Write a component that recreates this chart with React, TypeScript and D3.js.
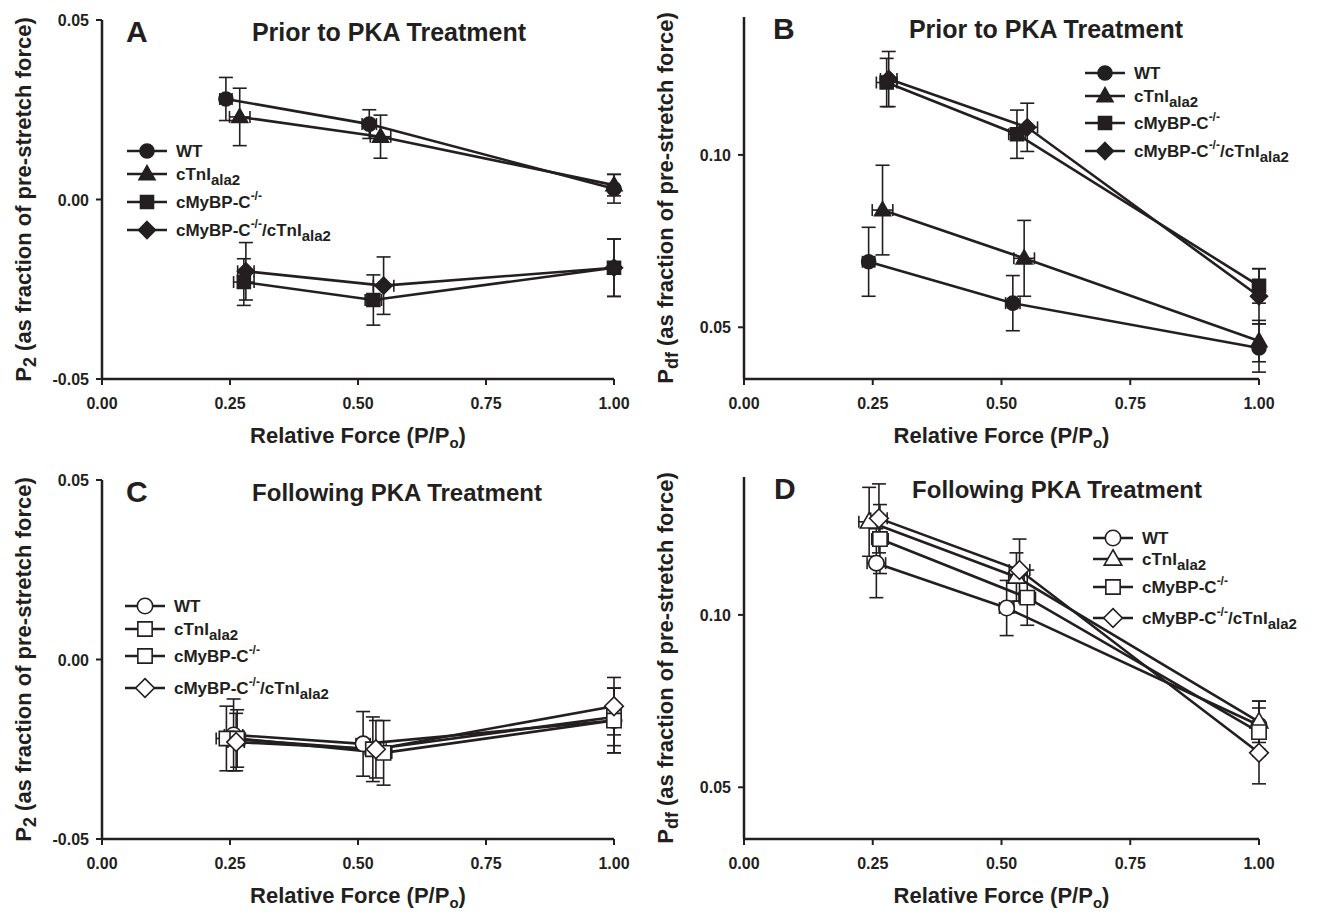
import React from "react";
import * as d3 from "d3";

const FONT = "'Liberation Sans', Arial, Helvetica, sans-serif";
const INK = "#231f20";

// tick values
const xTicks = [0, 0.25, 0.5, 0.75, 1.0];
const p2Ticks = [-0.05, 0, 0.05];
const pdfTicks = [0.05, 0.1];

// relative force (P/Po) per series: WT, cTnIala2, cMyBP-C-/-, cMyBP-C-/-/cTnIala2
const priorForce = [[0.242, 0.522, 1], [0.269, 0.544, 1], [0.277, 0.53, 1], [0.281, 0.55, 1]];
const priorForceErr = [[0.012, 0.014, 0], [0.02, 0.02, 0], [0.02, 0.016, 0], [0.016, 0.02, 0]];
const followForce = [[0.257, 0.51, 1], [0.243, 0.529, 1], [0.264, 0.55, 1], [0.262, 0.535, 1]];
const followForceErr = [[0.018, 0.014, 0], [0.02, 0.015, 0], [0.016, 0.016, 0], [0.016, 0.02, 0]];

// P2, prior to PKA
const priorP2 = [[0.028, 0.021, 0.003], [0.023, 0.0175, 0.004], [-0.023, -0.028, -0.019], [-0.02, -0.024, -0.019]];
const priorP2Err = [[0.006, 0.004, 0.004], [0.008, 0.006, 0.003], [0.0065, 0.007, 0.008], [0.008, 0.008, 0.008]];
// Pdf, prior to PKA
const priorPdf = [[0.069, 0.057, 0.044], [0.084, 0.07, 0.046], [0.121, 0.106, 0.062], [0.122, 0.108, 0.059]];
const priorPdfErr = [[0.01, 0.008, 0.007], [0.013, 0.011, 0.006], [0.007, 0.007, 0.005], [0.008, 0.007, 0.008]];
// P2, following PKA
const followP2 = [[-0.021, -0.0235, -0.017], [-0.022, -0.025, -0.016], [-0.022, -0.026, -0.017], [-0.023, -0.025, -0.013]];
const followP2Err = [[0.01, 0.009, 0.009], [0.009, 0.009, 0.008], [0.008, 0.009, 0.009], [0.008, 0.008, 0.008]];
// Pdf, following PKA
const followPdf = [[0.115, 0.102, 0.068], [0.127, 0.111, 0.069], [0.122, 0.105, 0.066], [0.128, 0.113, 0.06]];
const followPdfErr = [[0.01, 0.008, 0.007], [0.01, 0.007, 0.006], [0.01, 0.008, 0.007], [0.01, 0.009, 0.009]];

type Shape = "circle" | "triangle" | "square" | "diamond";

function markerPath(shape: Shape, cx: number, cy: number, open: boolean) {
  const p = d3.path();
  const k = open ? 1.1 : 1;
  if (shape === "circle") {
    const r = 7 * k;
    p.moveTo(cx + r, cy);
    p.arc(cx, cy, r, 0, Math.PI * 2);
  } else if (shape === "triangle") {
    const w = 16 * k, h = 14 * k;
    p.moveTo(cx, cy - h * 0.6);
    p.lineTo(cx + w / 2, cy + h * 0.4);
    p.lineTo(cx - w / 2, cy + h * 0.4);
  } else if (shape === "square") {
    const s = 6.5 * k;
    p.rect(cx - s, cy - s, 2 * s, 2 * s);
  } else {
    const s = 8.5 * k;
    p.moveTo(cx, cy - s);
    p.lineTo(cx + s, cy);
    p.lineTo(cx, cy + s);
    p.lineTo(cx - s, cy);
  }
  p.closePath();
  return p.toString();
}

function LegendLabel({ i, x, y }: { i: number; x: number; y: number }) {
  const style = { fontFamily: FONT, fontWeight: 700, fill: INK } as const;
  if (i === 0)
    return <text x={x} y={y} fontSize={17} style={style}>WT</text>;
  if (i === 1)
    return (
      <text x={x} y={y} fontSize={17} style={style}>
        cTnI<tspan fontSize={15} dy={5}>ala2</tspan>
      </text>
    );
  if (i === 2)
    return (
      <text x={x} y={y} fontSize={17} style={style}>
        cMyBP-C<tspan fontSize={12} dy={-8}>-/-</tspan>
      </text>
    );
  return (
    <text x={x} y={y} fontSize={17} style={style}>
      cMyBP-C<tspan fontSize={12} dy={-8}>-/-</tspan>
      <tspan dy={8}>/cTnI</tspan>
      <tspan fontSize={15} dy={5}>ala2</tspan>
    </text>
  );
}

interface PanelProps {
  letter: string;
  title: string;
  left: number;
  right: number;
  top: number;
  bottom: number;
  yDomain: [number, number];
  yTicks: number[];
  yLabel: "P2" | "Pdf";
  xs: number[][];
  xe: number[][];
  ys: number[][];
  ye: number[][];
  shapes: Shape[];
  open: boolean;
  legendX: number;
  legendRows: number[];
  letterDx: number;
  titleX: number;
  titleSize: number;
}

function Panel(p: PanelProps) {
  const x = d3.scaleLinear().domain([0, 1]).range([p.left, p.right]);
  const y = d3.scaleLinear().domain(p.yDomain).range([p.bottom, p.top]);
  const line = d3
    .line<[number, number]>()
    .x(d => x(d[0]))
    .y(d => y(d[1]));
  const txt = { fontFamily: FONT, fontWeight: 700, fill: INK } as const;
  const midY = (p.top + p.bottom) / 2;
  const labelX = p.left - 71;

  return (
    <g>
      {/* axes */}
      <line x1={p.left} x2={p.left} y1={p.top} y2={p.bottom} stroke={INK} strokeWidth={2.5} />
      <line x1={p.left} x2={p.right} y1={p.bottom} y2={p.bottom} stroke={INK} strokeWidth={2.5} />
      {xTicks.map(t => (
        <g key={"x" + t}>
          <line x1={x(t)} x2={x(t)} y1={p.bottom} y2={p.bottom + 6} stroke={INK} strokeWidth={2} />
          <text x={x(t)} y={p.bottom + 30} textAnchor="middle" fontSize={16} style={txt}>
            {t.toFixed(2)}
          </text>
        </g>
      ))}
      {p.yTicks.map(t => (
        <g key={"y" + t}>
          <line x1={p.left - 6} x2={p.left} y1={y(t)} y2={y(t)} stroke={INK} strokeWidth={2} />
          <text x={p.left - 13} y={y(t) + 6} textAnchor="end" fontSize={16} style={txt}>
            {t.toFixed(2)}
          </text>
        </g>
      ))}
      <text x={(p.left + p.right) / 2} y={p.bottom + 64} textAnchor="middle" fontSize={22} style={txt}>
        Relative Force (P/P<tspan fontSize={15} dy={5}>o</tspan>
        <tspan dy={-5}>)</tspan>
      </text>
      <text
        transform={`translate(${labelX},${midY}) rotate(-90)`}
        textAnchor="middle"
        fontSize={22}
        style={txt}
      >
        P<tspan fontSize={18} dy={5}>{p.yLabel === "P2" ? "2" : "df"}</tspan>
        <tspan dy={-5}> (as fraction of pre-stretch force)</tspan>
      </text>
      <text x={p.left + p.letterDx} y={p.top + 22} fontSize={30} style={txt}>
        {p.letter}
      </text>
      <text x={p.titleX} y={p.top + 21} textAnchor="middle" fontSize={p.titleSize} style={txt}>
        {p.title}
      </text>

      {/* connecting lines */}
      {p.ys.map((ser, i) => (
        <path
          key={"l" + i}
          d={line(ser.map((v, j) => [p.xs[i][j], v] as [number, number])) || ""}
          fill="none"
          stroke={INK}
          strokeWidth={2.6}
        />
      ))}
      {/* error bars */}
      {p.ys.map((ser, i) =>
        ser.map((v, j) => {
          const cx = x(p.xs[i][j]);
          const cy = y(v);
          const y1 = y(v + p.ye[i][j]);
          const y2 = y(v - p.ye[i][j]);
          const xerr = p.xe[i][j];
          return (
            <g key={`e${i}-${j}`} stroke={INK} strokeWidth={1.6}>
              <line x1={cx} x2={cx} y1={y1} y2={y2} />
              <line x1={cx - 7} x2={cx + 7} y1={y1} y2={y1} />
              <line x1={cx - 7} x2={cx + 7} y1={y2} y2={y2} />
              {xerr > 0 && (
                <>
                  <line x1={x(p.xs[i][j] - xerr)} x2={x(p.xs[i][j] + xerr)} y1={cy} y2={cy} />
                  <line x1={x(p.xs[i][j] - xerr)} x2={x(p.xs[i][j] - xerr)} y1={cy - 6} y2={cy + 6} />
                  <line x1={x(p.xs[i][j] + xerr)} x2={x(p.xs[i][j] + xerr)} y1={cy - 6} y2={cy + 6} />
                </>
              )}
            </g>
          );
        })
      )}
      {/* markers */}
      {p.ys.map((ser, i) =>
        ser.map((v, j) => (
          <path
            key={`m${i}-${j}`}
            d={markerPath(p.shapes[i], x(p.xs[i][j]), y(v), p.open)}
            fill={p.open ? "#fff" : INK}
            stroke={INK}
            strokeWidth={1.6}
          />
        ))
      )}
      {/* legend */}
      {p.legendRows.map((ly, i) => (
        <g key={"lg" + i}>
          <line x1={p.legendX - 20} x2={p.legendX + 20} y1={ly} y2={ly} stroke={INK} strokeWidth={2.6} />
          <path
            d={markerPath(p.shapes[i], p.legendX, ly, p.open)}
            fill={p.open ? "#fff" : INK}
            stroke={INK}
            strokeWidth={1.6}
          />
          <LegendLabel i={i} x={p.legendX + 29} y={ly + 6} />
        </g>
      ))}
    </g>
  );
}

const filled: Shape[] = ["circle", "triangle", "square", "diamond"];
const openC: Shape[] = ["circle", "square", "square", "diamond"];

export default function App() {
  return (
    <div style={{ position: "absolute", left: 0, top: 0, background: "#fff" }}>
      <svg width={1319} height={912} viewBox="0 0 1319 912">
        <rect width={1319} height={912} fill="#fff" />
        <Panel
          letter="A" title="Prior to PKA Treatment"
          left={102} right={614} top={20} bottom={379}
          yDomain={[-0.05, 0.05]} yTicks={p2Ticks} yLabel="P2"
          xs={priorForce} xe={priorForceErr} ys={priorP2} ye={priorP2Err}
          shapes={filled} open={false}
          legendX={147} legendRows={[151, 174, 202, 230]}
          letterDx={24} titleX={389} titleSize={25}
        />
        <Panel
          letter="B" title="Prior to PKA Treatment"
          left={744} right={1259} top={17} bottom={379}
          yDomain={[0.035, 0.14]} yTicks={pdfTicks} yLabel="Pdf"
          xs={priorForce} xe={priorForceErr} ys={priorPdf} ye={priorPdfErr}
          shapes={filled} open={false}
          legendX={1105} legendRows={[73, 96, 123, 151]}
          letterDx={29} titleX={1046} titleSize={25}
        />
        <Panel
          letter="C" title="Following PKA Treatment"
          left={102} right={614} top={480} bottom={839}
          yDomain={[-0.05, 0.05]} yTicks={p2Ticks} yLabel="P2"
          xs={followForce} xe={followForceErr} ys={followP2} ye={followP2Err}
          shapes={openC} open={true}
          legendX={145} legendRows={[606, 629, 656, 688]}
          letterDx={24} titleX={397} titleSize={24}
        />
        <Panel
          letter="D" title="Following PKA Treatment"
          left={744} right={1259} top={477} bottom={839}
          yDomain={[0.035, 0.14]} yTicks={pdfTicks} yLabel="Pdf"
          xs={followForce} xe={followForceErr} ys={followPdf} ye={followPdfErr}
          shapes={filled} open={true}
          legendX={1113} legendRows={[538, 559, 587, 618]}
          letterDx={30} titleX={1057} titleSize={24}
        />
      </svg>
    </div>
  );
}
